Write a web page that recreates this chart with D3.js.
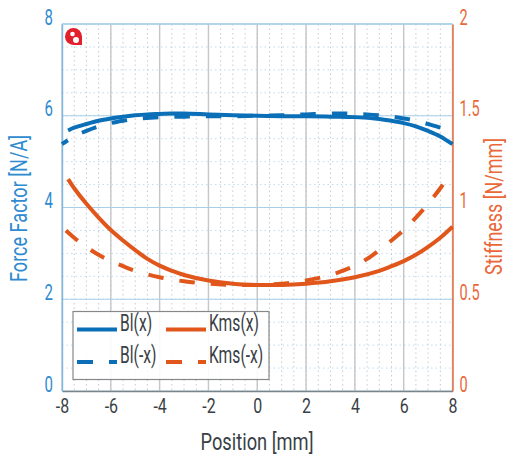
<!DOCTYPE html>
<html><head><meta charset="utf-8">
<script src="https://cdn.jsdelivr.net/npm/d3@7"></script>
<style>html,body{margin:0;padding:0;background:#fff}svg{display:block}text{font-family:Roboto,sans-serif;font-weight:400}</style>
</head><body><svg id="c" width="508" height="459"></svg>
<script>
const positions=[-7.75,-7.5,-7,-6.5,-6,-5.5,-5,-4.5,-4,-3.5,-3,-2,-1,0,1,2,3,4,5,5.5,6,6.5,7,7.5,8];
const blPlus=[5.68,5.74,5.82,5.89,5.94,5.98,6.01,6.03,6.04,6.05,6.05,6.03,6.01,6.00,5.99,5.99,5.98,5.97,5.93,5.89,5.84,5.77,5.67,5.55,5.38];
const kmsPlus=[1.155,1.105,1.02,0.945,0.877,0.82,0.768,0.72,0.683,0.655,0.632,0.602,0.585,0.578,0.578,0.585,0.598,0.62,0.655,0.68,0.708,0.742,0.785,0.835,0.895];
const positionsMinus=[-8,-7.5,-7,-6.5,-6,-5.5,-5,-4,-3,-2,-1,0,1,2,3,3.5,4,4.5,5,5.5,6,6.5,7,7.5,7.75];
const blMinus=[5.38,5.55,5.67,5.77,5.84,5.89,5.93,5.97,5.98,5.99,5.99,6.00,6.01,6.03,6.05,6.05,6.04,6.03,6.01,5.98,5.94,5.89,5.82,5.74,5.68];
const kmsMinus=[0.895,0.835,0.785,0.742,0.708,0.68,0.655,0.62,0.598,0.585,0.578,0.578,0.585,0.602,0.632,0.655,0.683,0.72,0.768,0.82,0.877,0.945,1.02,1.105,1.155];
const xTicks=[-8,-6,-4,-2,0,2,4,6,8];
const leftTicks=[0,2,4,6,8];
const rightTicks=[0,0.5,1,1.5,2];
const rightTickLabels=["0","0.5","1","1.5","2"];
const minorX=d3.range(-8,8.01,0.5);
const minorY=d3.range(0,8.01,0.5);
const legendRows=[["Bl(x)","Kms(x)"],["Bl(-x)","Kms(-x)"]];

const blue="#0b6fb8",orange="#e0561b",blueT="#2e8bd0",orangeT="#e9683a",gridBlue="#a9cfe8",dark="#3a3f45";
const L=62,R=452.5,T=24,B=391;
const svg=d3.select("#c");
const x=d3.scaleLinear().domain([-8,8]).range([L,R]);
const y=d3.scaleLinear().domain([0,8]).range([B,T]);
const y2=d3.scaleLinear().domain([0,2]).range([B,T]);

const minor=svg.append("g");
minor.selectAll(".mx").data(minorX).join("line").attr("x1",d=>x(d)).attr("x2",d=>x(d)).attr("y1",T).attr("y2",B)
 .attr("stroke","#c6cacd").attr("stroke-width",1).attr("stroke-dasharray","1.5 3");
minor.selectAll(".my").data(minorY).join("line").attr("x1",L).attr("x2",R).attr("y1",d=>y(d)).attr("y2",d=>y(d))
 .attr("stroke","#bcdcf0").attr("stroke-width",1).attr("stroke-dasharray","1.5 3");
const major=svg.append("g");
major.selectAll(".vx").data(xTicks).join("line").attr("x1",d=>x(d)).attr("x2",d=>x(d)).attr("y1",T).attr("y2",B)
 .attr("stroke","#c4c6c8").attr("stroke-width",1.4);
major.selectAll(".hy").data(leftTicks).join("line").attr("x1",L).attr("x2",R).attr("y1",d=>y(d)).attr("y2",d=>y(d))
 .attr("stroke",gridBlue).attr("stroke-width",1.1);

// squeeze a text horizontally about its anchor, as the original face is condensed
function squeeze(sel,k,anchor){sel.each(function(){
  const t=d3.select(this),px=+t.attr("x")||0;
  t.attr("text-anchor",anchor).attr("transform",`translate(${px},0) scale(${k},1) translate(${-px},0)`);
});}
function clean(g,c,fs){g.select(".domain").attr("stroke",c).attr("stroke-width",1.4);g.selectAll(".tick line").remove();
 g.selectAll("text").attr("font-size",fs).attr("font-family","Roboto,sans-serif").attr("fill",c);}
const gx=svg.append("g").attr("transform",`translate(0,${B})`).call(d3.axisBottom(x).tickValues(xTicks).tickSize(0).tickPadding(7).tickFormat(d=>String(d)));
clean(gx,dark,21);gx.select(".domain").attr("stroke","#7d8488");
squeeze(gx.selectAll(".tick text"),0.76,"middle");
const gl=svg.append("g").attr("transform",`translate(${L},0)`).call(d3.axisLeft(y).tickValues(leftTicks).tickSize(0).tickPadding(9));
clean(gl,blueT,22);gl.select(".domain").attr("stroke","#7fb8e0");
gl.selectAll(".tick text").attr("dy","0");
squeeze(gl.selectAll(".tick text"),0.68,"end");
const gr=svg.append("g").attr("transform",`translate(${R},0)`).call(d3.axisRight(y2).tickValues(rightTicks).tickSize(0).tickPadding(7).tickFormat((d,i)=>rightTickLabels[i]));
clean(gr,orangeT,22);
gr.selectAll(".tick text").attr("dy","0");
squeeze(gr.selectAll(".tick text"),0.66,"start");
svg.append("line").attr("x1",L).attr("x2",R).attr("y1",T).attr("y2",T).attr("stroke",gridBlue).attr("stroke-width",1.4);

const line=(xs,ys,sc)=>d3.line().x((d,i)=>x(xs[i])).y(d=>sc(d)).curve(d3.curveCatmullRom.alpha(0.5))(ys);
const dash="15.5 16";
function path(d,c,offset,w){const p=svg.append("path").attr("d",d).attr("fill","none").attr("stroke",c).attr("stroke-width",w);
 if(offset!==null)p.attr("stroke-dasharray",dash).attr("stroke-dashoffset",offset);return p;}
path(line(positions,blPlus,y),blue,null,4);
path(line(positionsMinus,blMinus,y),blue,8.5,4);
path(line(positions,kmsPlus,y2),orange,null,4);
path(line(positionsMinus,kmsMinus,y2),orange,26,4);

// logo
const logo=svg.append("g").attr("transform","translate(73.5,36.5)");
logo.append("path").attr("d","M-8.5,0A8.5,8.5 0 1 1 8.5,0L8.5,8.5L0,8.5A8.5,8.5 0 0 1 -8.5,0Z").attr("fill","#e2202c");
logo.append("circle").attr("cx",-1).attr("cy",-2.5).attr("r",2.3).attr("fill","#fff");
logo.append("circle").attr("cx",2.5).attr("cy",3.5).attr("r",3).attr("fill","#fff");

// legend
const lg=svg.append("g");
lg.append("rect").attr("x",73).attr("y",311.5).attr("width",196).attr("height",68).attr("fill","#fff").attr("fill-opacity",0.9).attr("stroke","#85898c").attr("stroke-width",1.2);
const cols=[{x0:77,x1:117,tx:120,c:blue},{x0:166,x1:206,tx:209,c:orange}];
[0,1].forEach(r=>{cols.forEach((cl,i)=>{
 const yy=r?362:329.5;
 lg.append("line").attr("x1",cl.x0).attr("x2",cl.x1).attr("y1",yy).attr("y2",yy).attr("stroke",cl.c).attr("stroke-width",4).attr("stroke-dasharray",r?"16 16":null);
 const t=lg.append("text").attr("x",cl.tx).attr("y",r?363:331).attr("font-size",23).attr("fill",dark).text(legendRows[r][i]);
 squeeze(t,0.68,"start");
});});

// titles: fitted to the length they span in the picture
function title(px,py,rot,txt,c,len){
 const g=svg.append("g").attr("transform",`translate(${px},${py}) rotate(${rot})`);
 const t=g.append("text").attr("text-anchor","middle").attr("font-size",24).attr("fill",c).text(txt);
 t.attr("transform",`scale(${len/t.node().getComputedTextLength()},1)`);
}
title(257,450,0,"Position [mm]",dark,113);
title(27,208.5,-90,"Force Factor [N/A]",blueT,147);
title(502,206.5,-90,"Stiffness [N/mm]",orangeT,137);
</script></body></html>
